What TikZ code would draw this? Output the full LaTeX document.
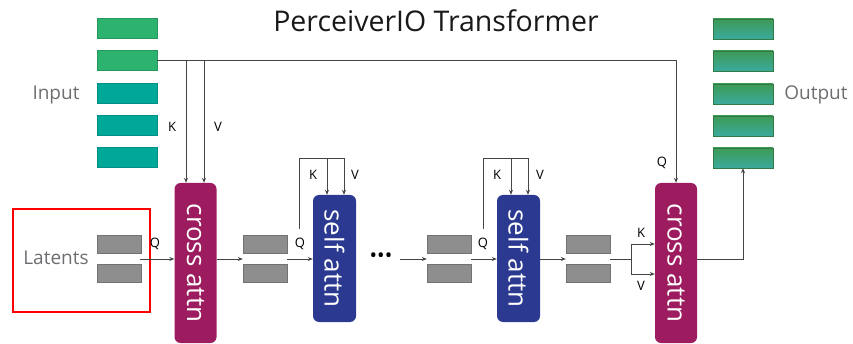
\documentclass[tikz,border=0pt]{standalone}
\usepackage{fontspec}
\setmainfont{Open Sans}
\usetikzlibrary{arrows.meta,calc}
\definecolor{ingreen}{HTML}{2DB36F}
\definecolor{inteal}{HTML}{00A89A}
\definecolor{outtop}{HTML}{3E9A57}
\definecolor{outbot}{HTML}{3AAA9C}
\definecolor{crossc}{HTML}{9C1C5F}
\definecolor{selfc}{HTML}{2B3990}
\definecolor{latgray}{HTML}{8E8E8E}
\definecolor{labgray}{HTML}{6D6E71}
\definecolor{wire}{HTML}{444444}
\tikzset{
  bar/.style={rectangle, minimum width=60pt, minimum height=20pt, inner sep=0pt},
  inbar/.style={bar, fill=#1, draw=#1!85!black, line width=0.4pt},
  outbar/.style={bar, top color=outtop, bottom color=outbot, draw=outtop!80!black, line width=0.4pt},
  latbar/.style={rectangle, minimum width=44pt, minimum height=18pt, inner sep=0pt, fill=latgray, draw=latgray!80!black, line width=0.4pt},
  attn/.style={rectangle, rounded corners=6pt, fill=#1, inner sep=0pt, minimum width=42pt},
  attntext/.style={text=white, font=\fontsize{26}{26}\selectfont, rotate=-90, inner sep=0pt},
  side/.style={text=labgray, font=\fontsize{19}{19}\selectfont, inner sep=0pt},
  kvq/.style={text=black, font=\fontsize{13}{13}\selectfont, inner sep=0pt},
  wireline/.style={draw=wire, line width=0.8pt},
  arr/.style={wireline, -{Stealth[length=5pt,width=4pt]}},
}
\begin{document}
\begin{tikzpicture}[x=1pt,y=-1pt]
\useasboundingbox (0,0) rectangle (853,344);

% title
\node[font=\fontsize{28.5}{28.5}\selectfont, text=black!90, inner sep=0pt] (title) at (436,21) {PerceiverIO Transformer};

% input tokens
\node[inbar=ingreen] (in1) at (127,28) {};
\node[inbar=ingreen] (in2) at (127,60.5) {};
\node[inbar=inteal] (in3) at (127,93) {};
\node[inbar=inteal] (in4) at (127,125.5) {};
\node[inbar=inteal] (in5) at (127,157.5) {};
\node[side] (inlab) at (56,95) {Input};

% output tokens
\node[outbar] (out1) at (743,29) {};
\node[outbar] (out2) at (743,61) {};
\node[outbar] (out3) at (743,94) {};
\node[outbar] (out4) at (743,126) {};
\node[outbar] (out5) at (743,158) {};
\node[side] (outlab) at (816,95) {Output};

% latent array
\draw[red, line width=1.6pt] (13,209) rectangle (150,312);
\node[side] (latlab) at (56,258) {Latents};
\node[latbar] (la1) at (119,244.5) {};
\node[latbar] (la2) at (119,273) {};
\node[latbar] (lb1) at (265,244.5) {};
\node[latbar] (lb2) at (265,273) {};
\node[latbar] (lc1) at (449,244.5) {};
\node[latbar] (lc2) at (449,273) {};
\node[latbar] (ld1) at (588,244.5) {};
\node[latbar] (ld2) at (588,273) {};

% attention blocks
\node[attn=crossc, minimum height=160pt] (cross1) at (195.5,263) {};
\node[attntext] (cross1t) at (cross1.center) {cross attn};
\node[attn=selfc, minimum height=127pt, minimum width=43pt] (self1) at (334.5,258.5) {};
\node[attntext] (self1t) at (self1.center) {self attn};
\node[attn=selfc, minimum height=127pt, minimum width=43pt] (self2) at (518.5,258.5) {};
\node[attntext] (self2t) at (self2.center) {self attn};
\node[attn=crossc, minimum height=160pt] (cross2) at (676,263) {};
\node[attntext] (cross2t) at (cross2.center) {cross attn};

\node[font=\fontsize{20}{20}\selectfont, inner sep=0pt] (dots) at (381,258) {•••};

% taps on the input wire
\coordinate (k1) at (186,60.5);
\coordinate (v1) at (204,60.5);

% input -> first cross attention (K, V) and -> last cross attention (Q)
\draw[arr] (in2.east) -| (cross2.north);
\draw[arr] (k1) -- (k1 |- cross1.north);
\draw[arr] (v1) -- (v1 |- cross1.north);
\node[kvq] (klab1) at (172,127) {K};
\node[kvq] (vlab1) at (218,127) {V};
\node[kvq] (qlab4) at (662,163) {Q};

% latents -> cross attn
\coordinate (lam) at (140,259);
\draw[arr] (lam) -- (lam -| cross1.west);
\node[kvq] (qlab1) at (155,244) {Q};

% cross attn -> latents
\coordinate (c1out) at (cross1.east |- lam);
\draw[arr] (c1out) -- (c1out -| lb1.west);

% latents -> self attn 1
\coordinate (lbm) at (lb1.east |- lam);
\draw[arr] (lbm) -- (lbm -| self1.west);
\node[kvq] (qlab2) at (300,244) {Q};
\coordinate (s1a) at (299,229);
\coordinate (s1b) at (299,158);
\coordinate (s1k) at (327,158);
\coordinate (s1v) at (344,158);
\draw[wireline] (s1a) -- (s1b) -- (s1v);
\draw[arr] (s1k) -- (s1k |- self1.north);
\draw[arr] (s1v) -- (s1v |- self1.north);
\node[kvq] (klab2) at (313,175) {K};
\node[kvq] (vlab2) at (355,175) {V};

% ... -> latents
\coordinate (dotsout) at (400,259);
\draw[arr] (dotsout) -- (dotsout -| lc1.west);

% latents -> self attn 2
\coordinate (lcm) at (lc1.east |- lam);
\draw[arr] (lcm) -- (lcm -| self2.west);
\node[kvq] (qlab3) at (483,244) {Q};
\coordinate (s2a) at (483,229);
\coordinate (s2b) at (483,158);
\coordinate (s2k) at (511,158);
\coordinate (s2v) at (528,158);
\draw[wireline] (s2a) -- (s2b) -- (s2v);
\draw[arr] (s2k) -- (s2k |- self2.north);
\draw[arr] (s2v) -- (s2v |- self2.north);
\node[kvq] (klab3) at (497,175) {K};
\node[kvq] (vlab3) at (540,175) {V};

% self attn 2 -> latents
\coordinate (s2out) at (self2.east |- lam);
\draw[arr] (s2out) -- (s2out -| ld1.west);

% latents -> last cross attn (K, V)
\coordinate (ldm) at (ld1.east |- lam);
\coordinate (split) at (631,259);
\coordinate (ksplit) at (631,244);
\coordinate (vsplit) at (631,274);
\draw[wireline] (ldm) -- (split);
\draw[wireline] (ksplit) -- (vsplit);
\draw[arr] (ksplit) -- (ksplit -| cross2.west);
\draw[arr] (vsplit) -- (vsplit -| cross2.west);
\node[kvq] (klab4) at (641,233) {K};
\node[kvq] (vlab4) at (641,286) {V};

% last cross attn -> output
\coordinate (c2out) at (cross2.east |- lam);
\draw[arr] (c2out) -| (out5.south);
\end{tikzpicture}
\end{document}
